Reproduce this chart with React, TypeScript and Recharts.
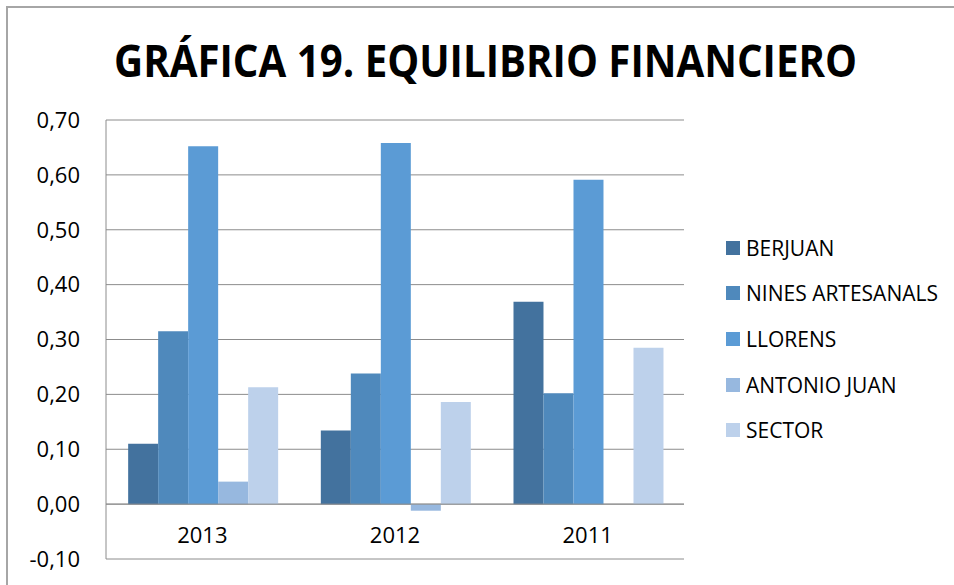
import React from 'react';
import { BarChart, Bar, XAxis, YAxis, CartesianGrid, ReferenceLine } from 'recharts';

const years = ['2013', '2012', '2011'];
const berjuan = [0.11, 0.134, 0.369];
const ninesArtesanals = [0.315, 0.238, 0.202];
const llorens = [0.652, 0.658, 0.591];
const antonioJuan = [0.041, -0.012, 0];
const sector = [0.213, 0.186, 0.285];
const yTicks = [-0.1, 0, 0.1, 0.2, 0.3, 0.4, 0.5, 0.6, 0.7];

const series = [
  { key: 'berjuan', name: 'BERJUAN', color: '#43729E', values: berjuan },
  { key: 'nines', name: 'NINES ARTESANALS', color: '#4F89BC', values: ninesArtesanals },
  { key: 'llorens', name: 'LLORENS', color: '#5B9BD5', values: llorens },
  { key: 'antonio', name: 'ANTONIO JUAN', color: '#97B8DF', values: antonioJuan },
  { key: 'sector', name: 'SECTOR', color: '#BDD1EB', values: sector },
];

const data = years.map((y, i) => {
  const row: any = { year: y };
  series.forEach(s => { row[s.key] = s.values[i]; });
  return row;
});

const FONT = '"Open Sans", "Noto Sans", sans-serif';
const GRID = '#8C8C8C';

const fmt = (v: number) => v.toFixed(2).replace('.', ',');

const XTick = ({ x, y, payload }: any) => (
  <text x={x} y={y} dy={-24} textAnchor="middle" fontSize={22} fontFamily={FONT} fill="#000">
    {payload.value}
  </text>
);

// legend drawn as plain html next to the plot (recharts Legend would eat plot space)
const LegendBox = () => (
  <div style={{ position: 'absolute', left: 726, top: 225, fontFamily: FONT, fontSize: 21 }}>
    {series.map(s => (
      <div key={s.key} style={{ display: 'flex', alignItems: 'center', height: 45.6 }}>
        <span style={{ width: 14, height: 14, background: s.color, marginRight: 6, flexShrink: 0 }} />
        <span style={{ color: '#000', whiteSpace: 'nowrap' }}>{s.name}</span>
      </div>
    ))}
  </div>
);

export default function App() {
  return (
    <div style={{ position: 'absolute', left: 0, top: 0, width: 954, height: 585, overflow: 'hidden', background: '#fff' }}>
      <div style={{ position: 'absolute', left: 6, top: 6, width: 1000, height: 700, border: '2px solid #A6A6A6' }} />
      <svg width={954} height={100} style={{ position: 'absolute', left: 0, top: 0 }}>
        <text x={114} y={77} fontFamily={FONT} fontWeight={700} fontSize={45}
          textLength={743} lengthAdjust="spacingAndGlyphs" fill="#000">
          GRÁFICA 19. EQUILIBRIO FINANCIERO
        </text>
      </svg>
      <div style={{ position: 'absolute', left: 0, top: 0 }}>
        <BarChart width={954} height={585} data={data}
          margin={{ top: 120, right: 270, left: 46, bottom: 0 }}
          barCategoryGap="11.5%" barGap={0}>
          <CartesianGrid vertical={false} stroke={GRID} strokeWidth={1} />
          <XAxis dataKey="year" axisLine={false} tickLine={false} height={26} tick={<XTick />} interval={0} />
          <YAxis domain={[-0.1, 0.7]} ticks={yTicks} tickFormatter={fmt} width={60}
            axisLine={{ stroke: GRID }} tickLine={false} tickMargin={20}
            tick={{ fontSize: 22, fontFamily: FONT, fill: '#000' }} />
          <ReferenceLine y={0} stroke={GRID} strokeWidth={1} />
          {series.map(s => (
            <Bar key={s.key} dataKey={s.key} name={s.name} fill={s.color} isAnimationActive={false} />
          ))}
        </BarChart>
      </div>
      <LegendBox />
    </div>
  );
}
